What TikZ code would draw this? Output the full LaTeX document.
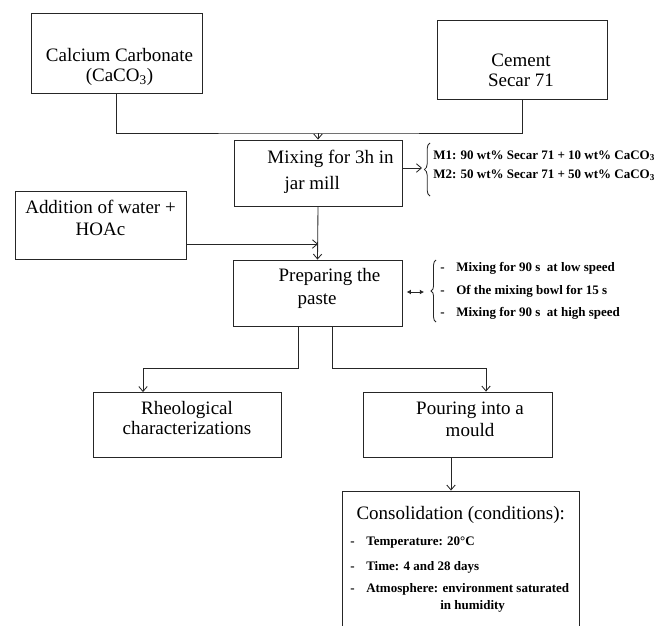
\documentclass[tikz,border=0pt]{standalone}
\usepackage{fontspec}
\setmainfont{Liberation Serif}
\usetikzlibrary{arrows.meta,decorations.pathreplacing}

% dash in front of a listed condition
\newcommand{\dashitem}{\makebox[1.23em][l]{-}}

\tikzset{
  box/.style={draw=black!85, line width=0.6pt, rectangle, inner sep=0pt},
  txt/.style={font=\fontsize{13.5}{15.5}\selectfont, align=center, inner sep=0pt},
  note/.style={font=\fontsize{9.25}{14}\selectfont\bfseries, align=left, inner sep=0pt},
  link/.style={draw=black!85, line width=0.6pt},
  >={Straight Barb[length=3.5pt,width=6pt]}
}

\begin{document}
\begin{tikzpicture}[x=0.025cm, y=-0.025cm]
    % page frame (the last box runs off the bottom)
    \clip (0,0) rectangle (663,625);

    % raw materials
    \node[box, minimum width=4.275cm, minimum height=2cm] (calc) at (116.5,53) {};
    \node[txt, font=\fontsize{13.5}{14.2}\selectfont] (calc t) at (119.5,67)
    {Calcium Carbonate\\(CaCO\textsubscript{3})};
    \node[box, minimum width=4.25cm, minimum height=1.975cm] (cem) at (522,59.5) {};
    \node[txt, font=\fontsize{13.5}{14.2}\selectfont] (cem t) at (521,70) {Cement\\Secar 71};

    % mixing in the jar mill
    \node[box, minimum width=4.2cm, minimum height=1.65cm] (mix) at (318,173) {};
    \node[txt, align=left, font=\fontsize{13.5}{18.5}\selectfont] (mix t) at (330.5,171.5)
    {Mixing for 3h in\\\hspace*{0.9em}jar mill};

    % water and acid
    \node[box, minimum width=4.275cm, minimum height=1.7cm] (add) at (100.5,225) {};
    \node[txt] (add t) at (100.5,218) {Addition of water +\\HOAc};

    % paste
    \node[box, minimum width=4.225cm, minimum height=1.65cm] (prep) at (317.5,293) {};
    \node[txt, align=left, font=\fontsize{13.5}{16.5}\selectfont] (prep t) at (329.5,288.5)
    {Preparing the\\\hspace*{1em}paste};

    % the two ways out
    \node[box, minimum width=4.7cm, minimum height=1.625cm] (rheo) at (187,425) {};
    \node[txt, font=\fontsize{13.5}{14.5}\selectfont] (rheo t) at (187,418)
    {Rheological\\characterizations};
    \node[box, minimum width=4.725cm, minimum height=1.625cm] (pour) at (457.5,424.5) {};
    \node[txt] (pour t) at (470,419) {Pouring into a\\mould};

    % consolidation
    \node[box, minimum width=5.925cm, minimum height=3.475cm] (cons) at (460.7,560.5) {};
    \node[txt] (cons t) at (460.7,515) {Consolidation (conditions):};
    \node[note, anchor=west] (cons a) at (350,543) {\dashitem Temperature: 20°C};
    \node[note, anchor=west] (cons b) at (350,567) {\dashitem Time: 4 and 28 days};
    \node[note, anchor=west] (cons c) at (350,589)
    {\dashitem Atmosphere: environment saturated};
    \node[note, anchor=west] (cons d) at (440,606) {in humidity};

    % side notes
    \node[note, anchor=west, font=\fontsize{9.25}{13.9}\selectfont\bfseries] (mixes) at (433,165.5)
    {M1: 90 wt\% Secar 71 + 10 wt\% CaCO\textsubscript{3}\\
     M2: 50 wt\% Secar 71 + 50 wt\% CaCO\textsubscript{3}};
    \node[note, anchor=west, font=\fontsize{9.25}{16}\selectfont\bfseries] (steps) at (440,291)
    {\dashitem Mixing for 90 s~ at low speed\\
     \dashitem Of the mixing bowl for 15 s\\
     \dashitem Mixing for 90 s~ at high speed};

    % braces
    \draw[link, decorate, decoration={brace, amplitude=4pt}] (430,196) -- (430,143);
    \draw[link, decorate, decoration={brace, amplitude=3.5pt}] (436,322) -- (436,260);

    % connection points
    \coordinate (top join) at (318,133);
    \coordinate (water in) at (318,244);
    \coordinate (mix tip) at (422,168);
    \coordinate (prep tip) at (424,292);
    \coordinate (split l) at (298,368);
    \coordinate (corner l) at (143,368);
    \coordinate (split r) at (332,368);
    \coordinate (corner r) at (486,368);
    \coordinate (drop) at (451,470);

    % connectors
    \draw[link] (calc.south) |- (top join) -| (cem.south);
    \draw[link, ->] (top join) -- (mix.north);
    \draw[link, ->] (mix.east |- mix tip) -- (mix tip);
    \draw[link, ->] (mix.south) -- (prep.north);
    \draw[link, ->] (add.east |- water in) -- (water in);
    \draw[link, {Latex[length=3pt,width=3.5pt]}-{Latex[length=3pt,width=3.5pt]},
    shorten <=3pt] (prep.east |- prep tip) -- (prep tip);
    \draw[link, ->] (prep.south -| split l) |- (corner l) -- (rheo.north -| corner l);
    \draw[link, ->] (prep.south -| split r) |- (corner r) -- (pour.north -| corner r);
    \draw[link, ->] (pour.south -| drop) -- (cons.north -| drop);
\end{tikzpicture}
\end{document}
